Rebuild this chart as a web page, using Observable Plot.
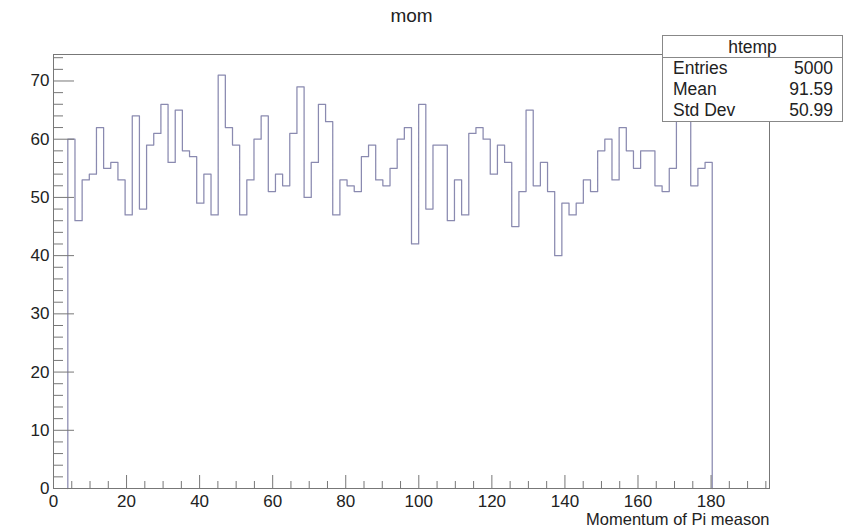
<!DOCTYPE html>
<html>
<head>
<meta charset="utf-8">
<script src="https://cdn.jsdelivr.net/npm/d3@7"></script>
<script src="https://cdn.jsdelivr.net/npm/@observablehq/plot@0.6"></script>
<style>
html, body { margin: 0; padding: 0; background: #fff; }
#wrap { position: relative; width: 849px; height: 530px; font-family: "Liberation Sans", Arial, Helvetica, sans-serif; }
#stats { position: absolute; left: 662px; top: 35px; width: 181px; height: 87px; box-sizing: border-box;
  border: 1px solid #888; background: #fff; color: #222; font-size: 17.5px; }
#stats .hdr { height: 22px; line-height: 22px; text-align: center; border-bottom: 1px solid #888; box-sizing: border-box; }
#stats .row { height: 21px; line-height: 21px; padding: 0 9px 0 10px; display: flex; justify-content: space-between; }
</style>
</head>
<body>
<div id="wrap"></div>
<script>
// Histogram "mom": 100 bins over [0, 196]; filled bins start at 3.92
const binCounts = [
  60, 46, 53, 54, 62, 55, 56, 53, 47, 64,
  48, 59, 61, 66, 56, 65, 58, 57, 49, 54,
  47, 71, 62, 59, 47, 53, 60, 64, 51, 54,
  52, 61, 69, 50, 56, 66, 63, 47, 53, 52,
  51, 57, 59, 53, 52, 55, 60, 62, 42, 66,
  48, 59, 59, 46, 53, 47, 61, 62, 60, 54,
  59, 56, 45, 51, 65, 52, 56, 51, 40, 49,
  47, 49, 53, 51, 58, 60, 53, 62, 58, 55,
  58, 58, 52, 51, 55, 64, 64, 52, 55, 56
];
const binStart = 3.92;
const binWidth = 1.96;
const xDomain = [0, 196];
const yDomain = [0, 74.55];
const xMajorTicks = [0, 20, 40, 60, 80, 100, 120, 140, 160, 180];
const xMinorTicks = [5, 10, 15, 25, 30, 35, 45, 50, 55, 65, 70, 75, 85, 90, 95, 105, 110, 115, 125, 130, 135, 145, 150, 155, 165, 170, 175, 185, 190, 195];
const yMajorTicks = [0, 10, 20, 30, 40, 50, 60, 70];
const yMinorTicks = [2, 4, 6, 8, 12, 14, 16, 18, 22, 24, 26, 28, 32, 34, 36, 38, 42, 44, 46, 48, 52, 54, 56, 58, 62, 64, 66, 68, 72, 74];
const titleText = "mom";
const xLabel = "Momentum of Pi meason";
const statsName = "htemp";
const statsLabels = ["Entries", "Mean", "Std Dev"];
const statsValues = ["5000", "91.59", "50.99"];

// step outline built from the bin arrays
const n = binCounts.length;
const stepPts = [{x: binStart, y: 0}];
binCounts.forEach((c, i) => stepPts.push({x: binStart + i * binWidth, y: c}));
stepPts.push({x: binStart + n * binWidth, y: binCounts[n - 1]});
stepPts.push({x: binStart + n * binWidth, y: 0});

const W = 849, H = 530, mL = 53, mR = 80, mT = 54, mB = 42;
const fw = W - mL - mR, fh = H - mT - mB;
const axisColor = "#777";
const histColor = "#8a8ab0";

const chart = Plot.plot({
  width: W, height: H,
  marginLeft: mL, marginRight: mR, marginTop: mT, marginBottom: mB,
  x: {domain: xDomain},
  y: {domain: yDomain},
  style: {fontFamily: '"Liberation Sans", Arial, Helvetica, sans-serif', fontSize: "17px", color: "#222", background: "#fff"},
  marks: [
    Plot.line(stepPts, {x: "x", y: "y", curve: "step-after", stroke: histColor, strokeWidth: 1.25}),
    Plot.frame({stroke: axisColor}),
    Plot.tickY(yMajorTicks, {y: d => d, insetRight: fw - 21, stroke: axisColor}),
    Plot.tickY(yMinorTicks, {y: d => d, insetRight: fw - 10, stroke: axisColor}),
    Plot.tickX(xMajorTicks, {x: d => d, insetTop: fh - 13, stroke: axisColor}),
    Plot.tickX(xMinorTicks, {x: d => d, insetTop: fh - 7, stroke: axisColor}),
    Plot.axisY(yMajorTicks, {tickSize: 0, tickPadding: 4, label: null, fontSize: 17}),
    Plot.axisX(xMajorTicks, {tickSize: 0, tickPadding: 6, label: null, fontSize: 17}),
    Plot.text([xLabel], {frameAnchor: "bottom-right", textAnchor: "end", lineAnchor: "middle", dy: 31, fontSize: 16.5, fill: "#222"}),
    Plot.text([titleText], {frameAnchor: "top", lineAnchor: "middle", dy: -39, fontSize: 19, fill: "#222"})
  ]
});
const wrap = document.getElementById("wrap");
wrap.appendChild(chart);

const stats = document.createElement("div");
stats.id = "stats";
const hdr = document.createElement("div");
hdr.className = "hdr";
hdr.textContent = statsName;
stats.appendChild(hdr);
statsLabels.forEach((lab, i) => {
  const r = document.createElement("div");
  r.className = "row";
  const a = document.createElement("span"); a.textContent = lab;
  const b = document.createElement("span"); b.textContent = statsValues[i];
  r.appendChild(a); r.appendChild(b);
  stats.appendChild(r);
});
wrap.appendChild(stats);
</script>
</body>
</html>
